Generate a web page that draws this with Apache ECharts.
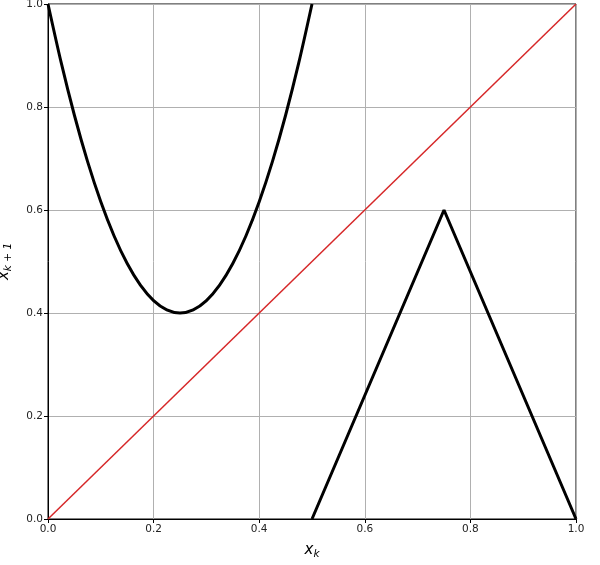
<!DOCTYPE html>
<html>
<head>
<meta charset="utf-8">
<script src="https://cdn.jsdelivr.net/npm/echarts@6/dist/echarts.min.js"></script>
<style>
  html, body { margin: 0; padding: 0; background: #fff; }
  #chart { width: 600px; height: 565px; }
</style>
</head>
<body>
<div id="chart"></div>
<script>
// parabola branch
const parabolaX = [0, 0.025, 0.05, 0.075, 0.1, 0.125, 0.15, 0.175, 0.2, 0.225, 0.25,
  0.275, 0.3, 0.325, 0.35, 0.375, 0.4, 0.425, 0.45, 0.475, 0.5];
const parabolaY = [1.0, 0.886, 0.784, 0.694, 0.616, 0.55, 0.496, 0.454, 0.424, 0.406, 0.4,
  0.406, 0.424, 0.454, 0.496, 0.55, 0.616, 0.694, 0.784, 0.886, 1.0];

// tent branch
const tentX = [0.5, 0.75, 1.0];
const tentY = [0.0, 0.6, 0.0];

// identity line
const diagX = [0, 1];
const diagY = [0, 1];

const pairs = (xs, ys) => xs.map((x, i) => [x, ys[i]]);

const fontFam = 'DejaVu Sans';

const axisCommon = {
  type: 'value',
  min: 0,
  max: 1,
  interval: 0.2,
  axisLine: { show: true, lineStyle: { color: '#000', width: 1 } },
  axisTick: { show: true, length: 4, lineStyle: { color: '#000' } },
  axisLabel: { color: '#222', fontSize: 10.5, fontFamily: fontFam, margin: 5, formatter: v => v.toFixed(1) },
  splitLine: { show: true, lineStyle: { color: '#b0b0b0', width: 1 } }
};

// mathtext-like italic x with subscript
const nameRich = {
  a: { fontSize: 15, fontFamily: fontFam, fontStyle: 'italic', color: '#000' },
  b: { fontSize: 10.5, fontFamily: fontFam, fontStyle: 'italic', color: '#000', verticalAlign: 'bottom', padding: [8, 0, 0, 0] }
};

const option = {
  backgroundColor: '#fff',
  animation: false,
  grid: {
    left: 48, right: 24, top: 4, bottom: 46,
    outerBoundsMode: 'none', containLabel: false,
    show: true, borderColor: '#000', borderWidth: 1
  },
  xAxis: {
    ...axisCommon,
    name: '{a|x}{b|k}',
    nameLocation: 'middle',
    nameGap: 22,
    nameTextStyle: { rich: nameRich }
  },
  yAxis: {
    ...axisCommon,
    name: '{a|x}{b|k + 1}',
    nameLocation: 'middle',
    nameRotate: 90,
    nameGap: 34,
    nameTextStyle: { rich: nameRich }
  },
  series: [
    {
      type: 'line', data: pairs(diagX, diagY), showSymbol: false,
      lineStyle: { color: '#d62728', width: 1.5 }, z: 3
    },
    {
      type: 'line', data: pairs(parabolaX, parabolaY), showSymbol: false, smooth: 0.3,
      lineStyle: { color: '#000', width: 3 }, z: 4
    },
    {
      type: 'line', data: pairs(tentX, tentY), showSymbol: false,
      lineStyle: { color: '#000', width: 3 }, z: 4
    }
  ]
};

const chart = echarts.init(document.getElementById('chart'), null, { renderer: 'canvas' });
chart.setOption(option);
</script>
</body>
</html>
